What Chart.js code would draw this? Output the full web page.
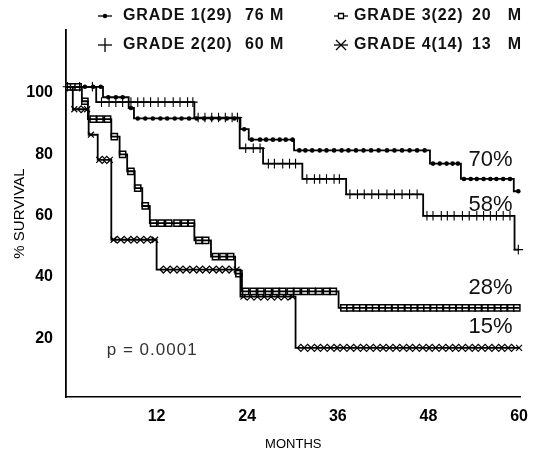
<!DOCTYPE html>
<html>
<head>
<meta charset="utf-8">
<script src="https://cdn.jsdelivr.net/npm/chart.js"></script>
<style>
  html, body { margin: 0; padding: 0; background: #fff; }
  #wrap { width: 538px; height: 451px; }
</style>
</head>
<body>
<div id="wrap"><canvas id="survivalChart" width="538" height="451"></canvas></div>
<script>
// Kaplan-Meier survival by tumour grade

const monthTicks = [12, 24, 36, 48, 60];
const survivalTicks = [20, 40, 60, 80, 100];

const gradeNames = ['GRADE 1(29)', 'GRADE 2(20)', 'GRADE 3(22)', 'GRADE 4(14)'];
const medianSurvival = ['76 M', '60 M', '20   M', '13   M'];
const gradeRates = [70, 58, 28, 15];
const pValue = 'p = 0.0001';

// step curves: month of each drop and the survival (%) after it
const grade1Months = [0, 4.9, 8.3, 9.0, 23.1, 24.2, 30.2, 48.2, 52.3, 59.3, 60];
const grade1Survival = [100, 96.6, 93.1, 89.7, 86.2, 82.8, 79.3, 75.0, 70, 66, 66];
const grade2Months = [0, 4.0, 17.0, 23.0, 26.1, 31.3, 37.1, 47.3, 59.4, 60];
const grade2Survival = [100, 95, 90, 80, 75, 70, 65, 58, 47, 47];
const grade3Months = [0, 2.1, 2.9, 6.0, 7.1, 8.1, 9.1, 10.1, 11.1, 17.0, 19.2, 22.4, 23.3, 36.1, 60];
const grade3Survival = [100, 95.3, 89.5, 83.8, 78.0, 72.5, 67.0, 61.2, 55.6, 50.0, 44.7, 39.2, 33.4, 28, 28];
const grade4Months = [0, 0.9, 3.0, 4.2, 6.0, 12.0, 23.1, 30.4, 60];
const grade4Survival = [100, 92.7, 84.4, 76.2, 50.2, 40.5, 31.7, 15, 15];

// censored observations (months)
const grade1Censored = [2.5, 3.6, 4.6, 5.6, 6.6, 7.5, 8.6, 9.5, 10.5, 11.5, 12.5, 13.4, 14.4, 15.3,
  16.3, 17.3, 18.3, 19.3, 20.3, 21.3, 22.3, 23.6, 24.6, 25.7, 26.5, 27.4, 28.3, 29.1, 30.0,
  30.9, 31.7, 32.6, 33.6, 34.5, 35.5, 36.5, 37.4, 38.4, 39.4, 40.4, 41.4, 42.5, 43.5, 44.5,
  45.5, 46.5, 47.5, 48.6, 49.5, 50.4, 51.2, 51.9, 52.7, 53.6, 54.4, 55.3, 56.2, 57.0, 57.9,
  58.8, 59.9];
const grade2Censored = [0.2, 1.8, 3.5, 4.7, 5.7, 6.6, 7.5, 8.6, 9.5, 10.3, 11.2, 12.2, 13.1, 14.2,
  15.1, 16.1, 16.8, 17.5, 18.4, 19.3, 20.2, 21.1, 22.0, 22.7, 23.8, 24.8, 25.7, 26.8, 27.6,
  28.7, 29.6, 30.4, 31.9, 32.9, 33.6, 34.5, 35.5, 36.2, 37.6, 38.6, 39.5, 40.5, 41.4, 42.5,
  43.5, 44.5, 45.5, 46.5, 47.8, 48.6, 49.7, 50.5, 51.4, 52.5, 53.4, 54.4, 55.3, 56.2, 57.0,
  57.9, 58.8, 59.9];
const grade3Censored = [0.4, 1.0, 1.6, 2.5, 3.6, 4.5, 5.5, 6.4, 7.5, 8.6, 9.5, 10.5, 11.6, 12.6,
  13.6, 14.7, 15.7, 16.6, 17.6, 18.5, 19.8, 20.8, 21.8, 22.9, 23.8, 24.8, 25.8, 26.8, 27.8,
  28.7, 29.7, 30.6, 31.6, 32.6, 33.5, 34.5, 35.4, 36.8, 37.6, 38.5, 39.3, 40.2, 41.0, 41.9,
  42.7, 43.6, 44.4, 45.3, 46.1, 47.0, 47.8, 48.7, 49.5, 50.4, 51.2, 52.1, 52.9, 53.8, 54.6,
  55.5, 56.3, 57.2, 58.0, 58.9, 59.7];
const grade4Censored = [2.0, 4.8, 5.4, 6.8, 7.7, 8.6, 9.4, 10.3, 11.2, 12.9, 13.8, 14.7, 15.5,
  16.4, 17.3, 18.1, 19.0, 19.9, 20.7, 21.6, 24.0, 24.9, 25.8, 26.7, 27.6, 28.5, 29.4, 31.1,
  32.0, 32.9, 33.7, 34.6, 35.5, 36.3, 37.2, 38.1, 39.0, 39.8, 40.7, 41.6, 42.4, 43.3, 44.2,
  45.1, 45.9, 46.8, 47.7, 48.5, 49.4, 50.3, 51.2, 52.0, 52.9, 53.8, 54.6, 55.5, 56.4, 57.3,
  58.1, 59.0];
const grade4Ends = [1.1, 2.8, 3.3, 4.4, 5.8, 6.3, 11.8, 22.6, 23.5, 30.0, 60];

const FONT = "'Liberation Sans', Arial, Helvetica, sans-serif";

function survivalAt(months, surv, t) {
  let v = surv[0];
  for (let i = 0; i < months.length; i++) {
    if (months[i] <= t) v = surv[i];
  }
  return v;
}

function stepPoints(months, surv) {
  return months.map((m, i) => ({ x: m, y: surv[i] }));
}

function markPoints(times, months, surv) {
  return times.map(t => ({ x: t, y: survivalAt(months, surv, t) }));
}

function curve(data) {
  return {
    data: data,
    stepped: true,
    borderColor: '#000',
    borderWidth: 1.8,
    pointRadius: 0,
    fill: false,
    clip: false
  };
}

function marks(data, style, radius, fill, width) {
  return {
    data: data,
    showLine: false,
    pointStyle: style,
    pointRadius: radius,
    pointBackgroundColor: fill,
    pointBorderColor: '#000',
    pointBorderWidth: width,
    clip: false
  };
}

// small legend glyphs: a short line with the series marker on it
function drawGlyph(ctx, kind, x, y) {
  ctx.save();
  ctx.strokeStyle = '#000';
  ctx.fillStyle = '#000';
  ctx.lineWidth = 1.3;
  ctx.beginPath();
  ctx.moveTo(x - 7, y);
  ctx.lineTo(x + 7, y);
  ctx.stroke();
  ctx.beginPath();
  if (kind === 'dot') {
    ctx.arc(x, y, 2.2, 0, Math.PI * 2);
    ctx.fill();
  } else if (kind === 'plus') {
    ctx.moveTo(x, y - 7);
    ctx.lineTo(x, y + 7);
    ctx.stroke();
  } else if (kind === 'square') {
    ctx.fillStyle = '#fff';
    ctx.rect(x - 2.5, y - 2.5, 5, 5);
    ctx.fill();
    ctx.stroke();
  } else {
    ctx.moveTo(x - 5, y - 5);
    ctx.lineTo(x + 5, y + 5);
    ctx.moveTo(x + 5, y - 5);
    ctx.lineTo(x - 5, y + 5);
    ctx.stroke();
  }
  ctx.restore();
}

const legendPlugin = {
  id: 'gradeLegend',
  afterDraw(chart) {
    const ctx = chart.ctx;
    const glyphs = ['dot', 'plus', 'square', 'cross'];
    // glyph centre, name start, median start, row centre
    const slots = [
      [105, 123, 245, 16], [105, 123, 245, 45],
      [341, 354, 472, 16], [341, 354, 472, 45]
    ];
    ctx.save();
    ctx.fillStyle = '#111';
    ctx.font = 'bold 16px ' + FONT;
    ctx.letterSpacing = '0.9px';
    ctx.textBaseline = 'middle';
    ctx.textAlign = 'left';
    gradeNames.forEach((name, i) => {
      const [gx, nx, mx, gy] = slots[i];
      drawGlyph(ctx, glyphs[i], gx, gy);
      ctx.fillText(name, nx, gy);
      ctx.fillText(medianSurvival[i], mx, gy);
    });
    ctx.restore();
  }
};

const notesPlugin = {
  id: 'survivalNotes',
  afterDatasetsDraw(chart) {
    const ctx = chart.ctx;
    const xs = chart.scales.x;
    const ys = chart.scales.y;
    const lift = [19, 11, 20, 21];
    ctx.save();
    ctx.fillStyle = '#111';
    ctx.textBaseline = 'middle';
    ctx.textAlign = 'left';
    ctx.font = '22px ' + FONT;
    gradeRates.forEach((r, i) => {
      ctx.fillText(r + '%', xs.getPixelForValue(53.3), ys.getPixelForValue(r) - lift[i]);
    });
    ctx.font = '17px ' + FONT;
    ctx.letterSpacing = '1px';
    ctx.fillStyle = '#333';
    ctx.fillText(pValue, xs.getPixelForValue(5.4), ys.getPixelForValue(14.3));
    ctx.restore();
  }
};

const ctx = document.getElementById('survivalChart').getContext('2d');

new Chart(ctx, {
  type: 'line',
  data: {
    datasets: [
      curve(stepPoints(grade1Months, grade1Survival)),
      curve(stepPoints(grade2Months, grade2Survival)),
      curve(stepPoints(grade3Months, grade3Survival)),
      curve(stepPoints(grade4Months, grade4Survival)),
      marks(markPoints(grade1Censored, grade1Months, grade1Survival), 'circle', 2.3, '#000', 0),
      marks(markPoints(grade2Censored, grade2Months, grade2Survival), 'cross', 4.8, '#000', 1.1),
      marks(markPoints(grade3Censored, grade3Months, grade3Survival), 'rect', 4.4, '#fff', 1.5),
      marks(markPoints(grade4Censored, grade4Months, grade4Survival), 'rectRot', 3.5, '#fff', 1.2),
      marks(markPoints(grade4Ends, grade4Months, grade4Survival), 'crossRot', 4.2, '#000', 1.2)
    ]
  },
  options: {
    responsive: false,
    animation: false,
    devicePixelRatio: 1,
    layout: { padding: { top: 30, right: 11, left: 0, bottom: 0 } },
    plugins: {
      legend: { display: false },
      tooltip: { enabled: false }
    },
    scales: {
      x: {
        type: 'linear',
        min: 0,
        max: 60.2,
        afterBuildTicks: s => { s.ticks = monthTicks.map(v => ({ value: v })); },
        afterFit: s => { s.height = 54; },
        grid: { display: false, drawTicks: false },
        border: { display: true, color: '#000', width: 1.5 },
        ticks: {
          color: '#000',
          padding: 10,
          maxRotation: 0,
          autoSkip: false,
          font: { family: FONT, size: 16, weight: 'bold' }
        },
        title: {
          display: true,
          text: 'MONTHS',
          color: '#000',
          padding: 0,
          font: { family: FONT, size: 13, lineHeight: 1 }
        }
      },
      y: {
        type: 'linear',
        min: -1,
        max: 118.5,
        afterBuildTicks: s => { s.ticks = survivalTicks.map(v => ({ value: v })); },
        afterFit: s => { s.width = 66; },
        grid: { display: false, drawTicks: false },
        border: { display: true, color: '#000', width: 1.8 },
        ticks: {
          color: '#000',
          padding: 13,
          labelOffset: 6,
          font: { family: FONT, size: 16, weight: 'bold' }
        },
        title: {
          display: true,
          text: '% SURVIVAL',
          color: '#000',
          padding: { top: 11, bottom: 0 },
          font: { family: FONT, size: 15 }
        }
      }
    }
  },
  plugins: [legendPlugin, notesPlugin]
});
</script>
</body>
</html>
